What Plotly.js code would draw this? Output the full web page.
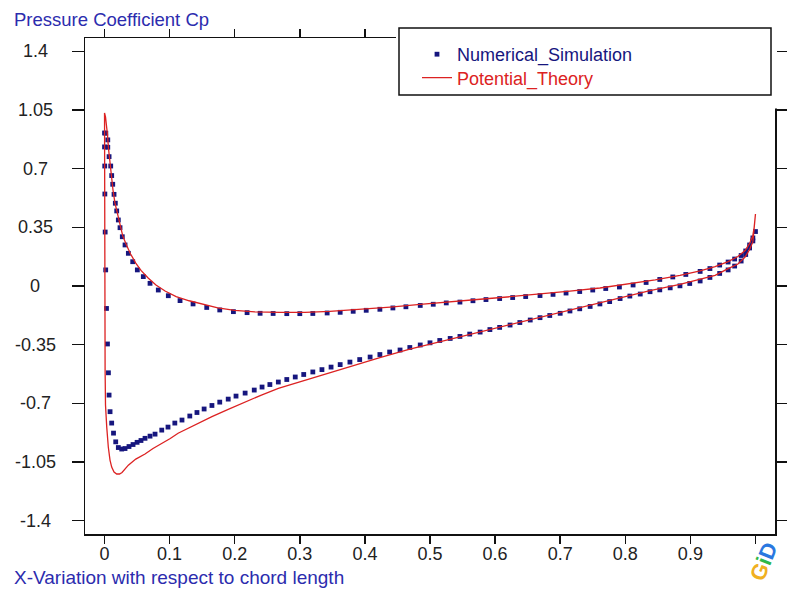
<!DOCTYPE html>
<html>
<head>
<meta charset="utf-8">
<script src="https://cdn.plot.ly/plotly-3.0.1.min.js"></script>
<style>
html,body{margin:0;padding:0;background:#fff;}
#chart{width:787px;height:589px;}
</style>
</head>
<body>
<div id="chart"></div>
<script>
// ---- Data ----
// Numerical simulation, upper branch (leading edge -> trailing edge)
const simUpperX = [0.002,0.005,0.005,0.007,0.0095,0.011,0.0126,0.0146,0.0166,0.0187,0.0212,0.0238,0.0273,0.0315,0.0366,0.0433,0.0504,0.0596,0.0699,0.0826,0.098,0.116,0.136,0.157,0.177,0.198,0.219,0.239,0.259,0.280,0.300,0.320,0.342,0.362,0.382,0.402,0.423,0.443,0.463,0.485,0.505,0.525,0.546,0.566,0.586,0.607,0.627,0.647,0.669,0.689,0.709,0.730,0.750,0.770,0.791,0.812,0.832,0.853,0.873,0.893,0.915,0.930,0.945,0.958,0.968,0.978,0.985,0.991,0.996,1.0];
const simUpperCp = [0.912,0.872,0.828,0.772,0.716,0.659,0.607,0.547,0.494,0.448,0.394,0.348,0.294,0.245,0.195,0.145,0.096,0.056,0.016,-0.024,-0.058,-0.087,-0.107,-0.128,-0.143,-0.153,-0.159,-0.163,-0.164,-0.165,-0.165,-0.164,-0.161,-0.157,-0.151,-0.145,-0.139,-0.131,-0.124,-0.116,-0.109,-0.101,-0.096,-0.088,-0.081,-0.075,-0.069,-0.063,-0.057,-0.050,-0.042,-0.033,-0.024,-0.015,-0.006,0.006,0.021,0.039,0.054,0.069,0.087,0.104,0.125,0.143,0.161,0.182,0.209,0.245,0.287,0.325];
// Numerical simulation, lower branch (leading edge -> trailing edge)
const simLowerX = [0.000,0.000,0.0003,0.0005,0.001,0.0018,0.003,0.0045,0.006,0.007,0.0085,0.011,0.0138,0.0172,0.0212,0.0264,0.0315,0.0376,0.0438,0.050,0.056,0.0622,0.0699,0.0776,0.0879,0.0975,0.108,0.119,0.131,0.142,0.153,0.165,0.177,0.190,0.202,0.216,0.230,0.242,0.254,0.267,0.280,0.293,0.306,0.320,0.334,0.348,0.362,0.377,0.392,0.408,0.423,0.438,0.454,0.469,0.485,0.500,0.515,0.531,0.546,0.561,0.577,0.592,0.607,0.623,0.638,0.654,0.669,0.684,0.700,0.715,0.730,0.746,0.761,0.776,0.792,0.807,0.823,0.838,0.853,0.869,0.884,0.899,0.915,0.930,0.945,0.958,0.968,0.978,0.985,0.991,0.996];
const simLowerCp = [0.913,0.830,0.716,0.549,0.322,0.096,-0.134,-0.346,-0.518,-0.651,-0.750,-0.818,-0.878,-0.930,-0.964,-0.973,-0.970,-0.958,-0.946,-0.933,-0.922,-0.909,-0.896,-0.884,-0.860,-0.842,-0.818,-0.800,-0.776,-0.755,-0.734,-0.713,-0.693,-0.675,-0.657,-0.639,-0.621,-0.603,-0.588,-0.573,-0.558,-0.543,-0.528,-0.513,-0.499,-0.484,-0.469,-0.454,-0.439,-0.424,-0.409,-0.394,-0.382,-0.367,-0.352,-0.339,-0.325,-0.313,-0.301,-0.287,-0.275,-0.260,-0.247,-0.233,-0.218,-0.203,-0.189,-0.176,-0.163,-0.149,-0.136,-0.122,-0.107,-0.093,-0.075,-0.060,-0.048,-0.034,-0.023,-0.011,0.001,0.015,0.030,0.051,0.075,0.096,0.119,0.149,0.188,0.227,0.269];
// Potential theory, upper branch (leading edge -> trailing edge)
const theoryUpperX = [0,0.0015,0.003,0.0046,0.006,0.0084,0.0108,0.013,0.016,0.020,0.024,0.028,0.034,0.040,0.048,0.056,0.067,0.079,0.093,0.110,0.130,0.151,0.174,0.200,0.231,0.270,0.308,0.346,0.392,0.439,0.485,0.531,0.577,0.623,0.669,0.715,0.761,0.807,0.846,0.884,0.915,0.938,0.958,0.973,0.984,0.991,0.996,0.998,1.0];
const theoryUpperCp = [1.033,1.009,0.967,0.901,0.824,0.734,0.651,0.573,0.496,0.424,0.358,0.299,0.242,0.191,0.137,0.093,0.048,0.006,-0.030,-0.063,-0.088,-0.110,-0.130,-0.145,-0.154,-0.157,-0.157,-0.152,-0.141,-0.126,-0.110,-0.093,-0.079,-0.064,-0.049,-0.031,-0.012,0.012,0.036,0.063,0.090,0.116,0.146,0.176,0.212,0.254,0.302,0.350,0.430];
// Potential theory, lower branch (leading edge -> trailing edge)
const theoryLowerX = [0.0001,0.0002,0.0003,0.0006,0.0009,0.0015,0.0034,0.0058,0.0084,0.011,0.0146,0.0187,0.023,0.0269,0.0366,0.048,0.0622,0.0745,0.0879,0.101,0.113,0.127,0.139,0.165,0.190,0.216,0.241,0.267,0.293,0.331,0.377,0.423,0.469,0.515,0.561,0.607,0.654,0.700,0.746,0.792,0.838,0.884,0.915,0.938,0.958,0.973,0.984,0.991,0.996,0.998,1.0];
const theoryLowerCp = [0.872,0.513,0.155,-0.203,-0.501,-0.710,-0.842,-0.961,-1.039,-1.081,-1.110,-1.122,-1.122,-1.113,-1.069,-1.033,-1.003,-0.970,-0.939,-0.910,-0.879,-0.854,-0.830,-0.780,-0.736,-0.691,-0.651,-0.611,-0.577,-0.537,-0.481,-0.427,-0.376,-0.331,-0.290,-0.245,-0.200,-0.157,-0.116,-0.070,-0.027,0.009,0.039,0.063,0.104,0.131,0.173,0.218,0.263,0.322,0.430];

const xTickVals = [0,0.1,0.2,0.3,0.4,0.5,0.6,0.7,0.8,0.9,1.0];
const xTickText = ['0','0.1','0.2','0.3','0.4','0.5','0.6','0.7','0.8','0.9',''];
const yTickVals = [1.4,1.05,0.7,0.35,0,-0.35,-0.7,-1.05,-1.4];
const yTickText = ['1.4','1.05','0.7','0.35','0','-0.35','-0.7','-1.05','-1.4'];

const seriesNames = ['Numerical_Simulation','Potential_Theory'];
const xTitle = 'X-Variation with respect to chord length';
const yTitle = 'Pressure Coefficient Cp';

// ---- Build traces ----
const FONT = '"Liberation Sans", Arial, Helvetica, sans-serif';
const NAVY = '#16167e';
const RED = '#dc2222';
const TITLEBLUE = '#2c2cae';

const simX = simUpperX.concat(simLowerX);
const simCp = simUpperCp.concat(simLowerCp);
const thX = theoryLowerX.slice().reverse().concat(theoryUpperX);
const thCp = theoryLowerCp.slice().reverse().concat(theoryUpperCp);

const traces = [
  {
    type: 'scatter', mode: 'markers', name: seriesNames[0], legend: 'legend',
    x: simX, y: simCp,
    marker: {symbol: 'square', size: 4.8, color: NAVY, line: {width: 0}},
    hoverinfo: 'x+y'
  },
  {
    type: 'scatter', mode: 'lines', name: seriesNames[1], legend: 'legend2',
    x: thX, y: thCp,
    line: {color: RED, width: 1.3},
    hoverinfo: 'x+y'
  }
];

// pixel -> paper helpers for decoration placement (plot area 85..775 x 38..534)
const L = 85, R = 12, T = 38, B = 55, W = 787, H = 589;
const pw = W - L - R, ph = H - T - B;
const px = v => (v - L) / pw;
const py = v => (H - B - v) / ph;

// y tick labels, centred like the reference
const yLabelAnns = yTickVals.map((v, i) => ({
  text: yTickText[i], xref: 'paper', yref: 'y', x: px(35), y: v,
  xanchor: 'center', yanchor: 'middle', showarrow: false,
  font: {family: FONT, size: 18, color: '#222'}
}));

const layout = {
  width: W, height: H,
  margin: {l: L, r: R, t: T, b: B, pad: 0},
  paper_bgcolor: '#ffffff',
  plot_bgcolor: '#ffffff',
  font: {family: FONT, size: 18, color: '#222222'},
  showlegend: true,
  legend: {
    x: px(417), y: py(36), xanchor: 'left', yanchor: 'top',
    bgcolor: 'rgba(0,0,0,0)', borderwidth: 0,
    font: {family: FONT, size: 18, color: NAVY}
  },
  legend2: {
    x: px(417), y: py(59.5), xanchor: 'left', yanchor: 'top',
    bgcolor: 'rgba(0,0,0,0)', borderwidth: 0,
    font: {family: FONT, size: 18, color: RED}
  },
  xaxis: {
    range: [-0.03, 1.03],
    tickmode: 'array', tickvals: xTickVals, ticktext: xTickText,
    ticks: 'outside', ticklen: 8, tickwidth: 1.5, tickcolor: '#111',
    showline: true, linecolor: '#111', linewidth: 1.5, mirror: 'allticks',
    showgrid: false, zeroline: false,
    ticklabelstandoff: -5,
    tickfont: {family: FONT, size: 18, color: '#222'},
    fixedrange: true
  },
  yaxis: {
    range: [-1.48, 1.48],
    tickmode: 'array', tickvals: yTickVals, ticktext: yTickText,
    showticklabels: false,
    ticks: 'outside', ticklen: 12, tickwidth: 1.5, tickcolor: '#111',
    showline: true, linecolor: '#111', linewidth: 1.5, mirror: 'allticks',
    showgrid: false, zeroline: false,
    fixedrange: true
  },
  shapes: [
    // white area behind the legend that hides the frame corner
    {type: 'rect', xref: 'paper', yref: 'paper', layer: 'above',
     x0: px(396), x1: px(777), y0: py(108.6), y1: py(24),
     fillcolor: '#ffffff', line: {width: 0}},
    // legend box
    {type: 'rect', xref: 'paper', yref: 'paper', layer: 'above',
     x0: px(399), x1: px(771), y0: py(95), y1: py(28),
     fillcolor: 'rgba(0,0,0,0)', line: {color: '#111', width: 1.5}}
  ],
  annotations: yLabelAnns.concat([
    {text: yTitle, xref: 'paper', yref: 'paper', x: px(12), y: py(20),
     xanchor: 'left', yanchor: 'middle', showarrow: false,
     font: {family: FONT, size: 18.5, color: TITLEBLUE}},
    {text: xTitle, xref: 'paper', yref: 'paper', x: px(12), y: py(577),
     xanchor: 'left', yanchor: 'middle', showarrow: false,
     font: {family: FONT, size: 19, color: TITLEBLUE}},
    {text: '<b><span style="color:#f0b020">G</span><span style="color:#2fb84a">i</span><span style="color:#2a78e0">D</span></b>',
     xref: 'paper', yref: 'paper', x: px(763), y: py(562),
     xanchor: 'center', yanchor: 'middle', showarrow: false, textangle: -68,
     font: {family: FONT, size: 22, color: '#2a78e0'}}
  ])
};

Plotly.newPlot('chart', traces, layout, {displayModeBar: false, staticPlot: true});
</script>
</body>
</html>
